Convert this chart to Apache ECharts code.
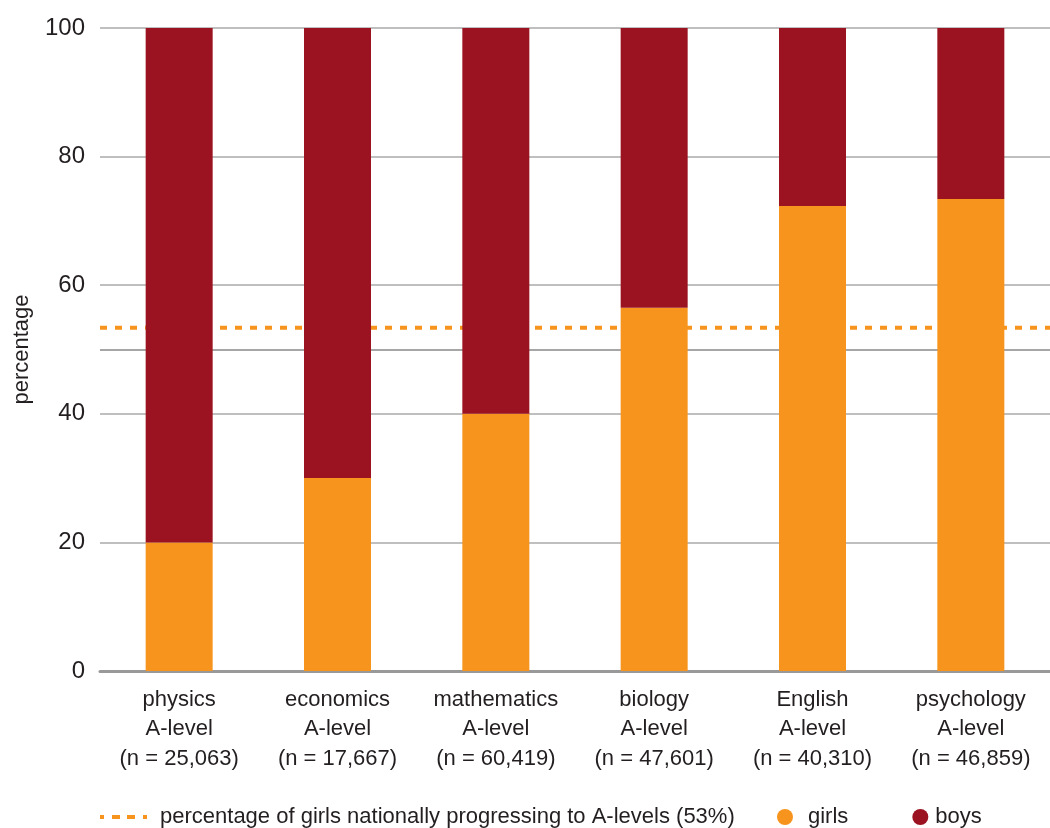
<!DOCTYPE html>
<html>
<head>
<meta charset="utf-8">
<script src="https://cdn.jsdelivr.net/npm/echarts@6/dist/echarts.min.js"></script>
<style>html,body{margin:0;padding:0;background:#fff}#c{width:1050px;height:828px}</style>
</head>
<body>
<div id="c"></div>
<script>
const categories = ['physics\nA-level\n(n = 25,063)', 'economics\nA-level\n(n = 17,667)', 'mathematics\nA-level\n(n = 60,419)', 'biology\nA-level\n(n = 47,601)', 'English\nA-level\n(n = 40,310)', 'psychology\nA-level\n(n = 46,859)'];
const girls = [20, 30, 40, 56.5, 72.3, 73.4];
const boys = [80, 70, 60, 43.5, 27.7, 26.6];
const nationalGirls = 53.4;
const nationalLabel = 'percentage of girls nationally progressing to A-levels (53%)';
const yTicks = [0, 20, 40, 60, 80, 100];

const FONT = '"Liberation Sans", Arial, sans-serif';
const TXT = '#231f20';
const chart = echarts.init(document.getElementById('c'));
chart.setOption({
  animation: false,
  textStyle: {fontFamily: FONT, color: TXT},
  grid: {left: 100, right: 0, top: 28, bottom: 157, containLabel: false, outerBoundsMode: 'none'},
  legend: [
    {left: 95, top: 801, itemWidth: 47, itemHeight: 4, itemGap: 20,
     textStyle: {fontSize: 22, color: TXT, fontFamily: FONT, padding: [0, 0, 0, 8]},
     data: [{name: nationalLabel,
       icon: 'path://M0,0h4v4h-4z M12,0h8v4h-8z M27,0h8v4h-8z M43,0h4v4h-4z',
       itemStyle: {color: '#F7941D'}}]},
    {left: 772, top: 801, itemWidth: 16, itemHeight: 16, itemGap: 64,
     textStyle: {fontSize: 22, color: TXT, fontFamily: FONT},
     data: [{name: 'girls', icon: 'circle', textStyle: {padding: [0, 0, 0, 10]}},
            {name: 'boys', icon: 'circle', textStyle: {padding: [0, 0, 0, 2]}}]}
  ],
  xAxis: [
    {type: 'category', data: categories,
     axisLine: {lineStyle: {color: '#999', width: 3}},
     axisTick: {show: false},
     axisLabel: {fontSize: 22, lineHeight: 29.5, color: TXT, margin: 14, interval: 0}},
    {type: 'value', min: 0, max: 1, show: false}
  ],
  yAxis: {
    type: 'value', min: 0, max: 100, interval: 10,
    name: 'percentage', nameLocation: 'middle', nameGap: 67, nameRotate: 90,
    nameMoveOverlap: false,
    nameTextStyle: {fontSize: 22, color: TXT},
    axisLine: {show: false}, axisTick: {show: false},
    axisLabel: {fontSize: 24, color: TXT, margin: 15,
      formatter: v => yTicks.indexOf(v) >= 0 ? String(v) : ''},
    splitLine: {lineStyle: {width: 1.5,
      color: ['#999', 'rgba(0,0,0,0)', '#aaa', 'rgba(0,0,0,0)', '#aaa', '#888', '#aaa', 'rgba(0,0,0,0)', '#aaa', 'rgba(0,0,0,0)', '#aaa']}}
  },
  series: [
    {name: nationalLabel, type: 'line', xAxisIndex: 1, z: 1,
     data: [[0, nationalGirls], [1, nationalGirls]],
     symbol: 'none', silent: true,
     itemStyle: {color: '#F7941D'},
     lineStyle: {color: '#F7941D', width: 4, type: [7, 8]}},
    {name: 'girls', type: 'bar', stack: 'all', barWidth: 67, z: 3,
     itemStyle: {color: '#F7941D'}, data: girls},
    {name: 'boys', type: 'bar', stack: 'all', barWidth: 67, z: 3,
     itemStyle: {color: '#9B1320'}, data: boys}
  ]
});
</script>
</body>
</html>
